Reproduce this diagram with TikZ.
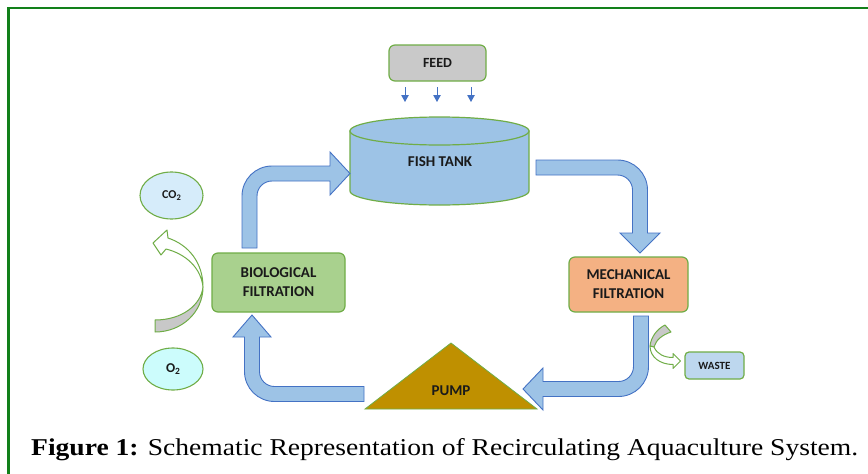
\documentclass[tikz,border=0pt]{standalone}
\usepackage{fontspec}
\setmainfont{Liberation Serif}
\newfontfamily\lblfont{Carlito}
\usetikzlibrary{arrows.meta,calc,shapes.geometric}
\definecolor{bandfill}{HTML}{9DC3E6}
\definecolor{bandline}{HTML}{4472C4}
\definecolor{grn}{HTML}{70AD47}
\definecolor{feedgray}{HTML}{C9C9C9}
\definecolor{biogreen}{HTML}{A9D18E}
\definecolor{mechorange}{HTML}{F4B183}
\definecolor{wasteblue}{HTML}{BDD7EE}
\definecolor{pumpgold}{HTML}{BF9000}
\definecolor{cotwo}{HTML}{D6ECFA}
\definecolor{otwo}{HTML}{CCFCFC}
\definecolor{txt}{HTML}{1A1A1A}
\definecolor{frame}{HTML}{12801A}
\definecolor{crescent}{HTML}{C8C8C8}
\begin{document}
\begin{tikzpicture}[x=1pt,y=-1pt,
  box/.style={draw=grn, line width=1.2pt, rounded corners=6pt, inner sep=0pt, align=center,
    text=txt, font=\lblfont\bfseries\fontsize{15}{19}\selectfont},
  oval/.style={ellipse, draw=grn, line width=1.1pt, inner sep=0pt, text=txt},
  lbl/.style={inner sep=0pt, text=txt, font=\lblfont\bfseries\fontsize{15}{19}\selectfont},
  band/.style={fill=bandfill, draw=bandline, line width=0.9pt, line join=miter},
  curv/.style={draw=grn, line width=1pt, line join=round},
  feedarrow/.style={draw=bandline, line width=1pt, -{Triangle[length=7pt,width=7.5pt]}}]
\useasboundingbox (0,0) rectangle (868,474);
\fill[white] (0,0) rectangle (868,474);

% frame
\draw[frame, line width=2.6pt] (8.5,474) -- (8.5,8) -- (868,8);

% feed
\node[box, fill=feedgray, minimum width=97pt, minimum height=36pt,
  font=\lblfont\bfseries\fontsize{14}{17}\selectfont] (feed) at (437.5,63) {FEED};
\coordinate (f1) at (405,87); \coordinate (f1e) at (405,102);
\coordinate (f2) at (437,87); \coordinate (f2e) at (437,102);
\coordinate (f3) at (471,87); \coordinate (f3e) at (471,102);
\draw[feedarrow] (f1) -- (f1e);
\draw[feedarrow] (f2) -- (f2e);
\draw[feedarrow] (f3) -- (f3e);

% fish tank (cylinder)
\path[fill=bandfill, draw=grn, line width=1.2pt]
  (350,131) -- (350,191)
  .. controls (350,198.73) and (390.07,205) .. (439.5,205)
  .. controls (488.93,205) and (529,198.73) .. (529,191)
  -- (529,131) -- cycle;
\path[fill=bandfill, draw=grn, line width=1.2pt] (439.5,131) ellipse [x radius=89.5, y radius=14];
\node[lbl] (tank) at (440,162) {FISH TANK};

% tank -> mechanical
\path[band] (536,160) -- (617.5,160)
  .. controls (634.07,160) and (647.5,173.43) .. (647.5,190)
  -- (647.5,233) -- (660,233) -- (640,253) -- (620,233) -- (632.5,233) -- (632.5,190)
  .. controls (632.5,181.72) and (625.78,175) .. (617.5,175) -- (536,175) -- cycle;

% mechanical filtration
\node[box, fill=mechorange, minimum width=119pt, minimum height=55pt] (mech) at (628.5,284.5) {MECHANICAL\\FILTRATION};

% mechanical -> pump
\path[band] (633.5,316) -- (648.5,316) -- (648.5,366.5)
  .. controls (648.5,383.07) and (635.07,396.5) .. (618.5,396.5)
  -- (543,396.5) -- (543,410) -- (523,389) -- (543,368) -- (543,381.5) -- (618.5,381.5)
  .. controls (626.78,381.5) and (633.5,374.78) .. (633.5,366.5) -- cycle;

% pump
\path[fill=pumpgold, draw=grn, line width=0.8pt] (451,343) -- (537,409) -- (365,409) -- cycle;
\node[lbl] (pump) at (451,391) {PUMP};

% pump -> biological
\path[band] (364,386.5) -- (364,401.5) -- (274.5,401.5)
  .. controls (257.93,401.5) and (244.5,388.07) .. (244.5,371.5)
  -- (244.5,337) -- (233,337) -- (252,315) -- (271,337) -- (259.5,337) -- (259.5,371.5)
  .. controls (259.5,379.78) and (266.22,386.5) .. (274.5,386.5) -- cycle;

% biological filtration
\node[box, fill=biogreen, minimum width=133pt, minimum height=59pt] (bio) at (278.5,282.5) {BIOLOGICAL\\FILTRATION};

% biological -> tank
\path[band] (242,248) -- (242,196)
  .. controls (242,179.43) and (255.43,166) .. (272,166)
  -- (330,166) -- (330,152) -- (350,173.5) -- (330,195) -- (330,181) -- (272,181)
  .. controls (263.72,181) and (257,187.72) .. (257,196) -- (257,248) -- cycle;

% gases
\node[oval, fill=cotwo, minimum width=63pt, minimum height=47pt,
  font=\lblfont\bfseries\fontsize{12}{14}\selectfont] (co2) at (171.5,195.5)
  {CO{\fontsize{8.5}{8.5}\selectfont\raisebox{-1.5pt}{2}}};
\node[oval, fill=otwo, minimum width=60pt, minimum height=42pt,
  font=\lblfont\bfseries\fontsize{13.5}{15}\selectfont] (o2) at (173,369)
  {O{\fontsize{9.5}{9.5}\selectfont\raisebox{-2pt}{2}}};

% curved gas-exchange arrow
\path[curv, fill=crescent] (155,320) -- (155,332)
  .. controls (182,332) and (203,312) .. (203,287)
  .. controls (201,305) and (182,320) .. (155,320) -- cycle;
\path[curv, fill=white] (203,287)
  .. controls (203,263) and (189,245) .. (168,238)
  -- (167,230) -- (153,243) -- (161,255) -- (166,249)
  .. controls (186,254) and (201,268) .. (203,287) -- cycle;

% waste
\node[box, fill=wasteblue, minimum width=59pt, minimum height=27pt, rounded corners=4pt,
  font=\lblfont\bfseries\fontsize{11}{13}\selectfont] (waste) at (714.5,365.5) {WASTE};
\path[curv, fill=crescent] (665,325) -- (671,332)
  .. controls (662,335) and (656,340) .. (654,347) -- (650,346)
  .. controls (651,337) and (657,329) .. (665,325) -- cycle;
\path[curv, fill=white] (650,346)
  .. controls (650,357) and (660,364.5) .. (673,364.5)
  -- (673,368.5) -- (680.5,361) -- (673,353.5) -- (673,357.5)
  .. controls (664,357.5) and (657,354) .. (654,347) -- cycle;

% caption
\node[anchor=base west, inner sep=0pt, text=black] (cap) at (31,455)
  {\resizebox{827pt}{17pt}{\textbf{Figure 1:} Schematic Representation of Recirculating Aquaculture System.}};
\end{tikzpicture}
\end{document}
